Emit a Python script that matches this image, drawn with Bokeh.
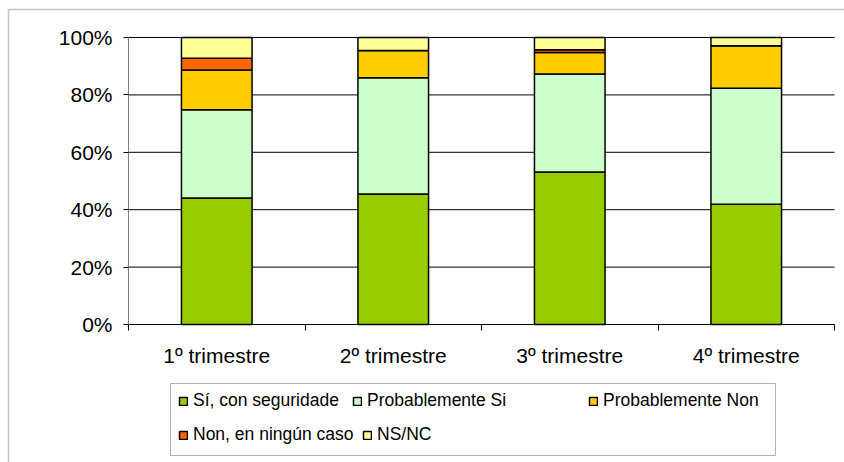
from bokeh.plotting import figure
from bokeh.models import (ColumnDataSource, FixedTicker, Legend, LegendItem,
                          BoxAnnotation, Range1d)
from bokeh.embed import file_html
from bokeh.resources import INLINE

# Survey answers per quarter (percent of respondents)
quarters = ["1º trimestre", "2º trimestre", "3º trimestre", "4º trimestre"]
answers = ["Sí, con seguridade", "Probablemente Si", "Probablemente Non",
           "Non, en ningún caso", "NS/NC"]
si_seguro = [44.1, 45.5, 53.1, 41.9]
prob_si = [30.7, 40.5, 34.2, 40.4]
prob_non = [13.9, 9.5, 7.5, 14.8]
non_nunca = [4.1, 0.0, 0.9, 0.0]
ns_nc = [7.2, 4.5, 4.3, 2.9]
colors = ["#99CC00", "#CCFFCC", "#FFCC00", "#FF6600", "#FFFF99"]
y_ticks = [0, 20, 40, 60, 80, 100]

W, H = 844, 462
# pixel box of the plotting area inside the page
PX_L, PX_R, PX_T, PX_B = 128, 834, 37, 324
N = len(quarters)


def dx(px):
    return (px - PX_L) / (PX_R - PX_L) * N


def dy(py):
    return (PX_B - py) / (PX_B - PX_T) * 100


keys = ["si_seguro", "prob_si", "prob_non", "non_nunca", "ns_nc"]
xpos = [i + 0.5 for i in range(N)]
src = ColumnDataSource(dict(x=xpos, si_seguro=si_seguro, prob_si=prob_si,
                            prob_non=prob_non, non_nunca=non_nunca, ns_nc=ns_nc))

FONT = "Liberation Sans"

p = figure(width=W, height=H, title=None,
           x_range=Range1d(dx(0), dx(W)), y_range=Range1d(dy(H), dy(0)),
           output_backend="svg", toolbar_location=None,
           min_border=0, min_border_left=0, min_border_right=0,
           min_border_top=0, min_border_bottom=0,
           background_fill_color="white", border_fill_color="white",
           outline_line_color=None)
p.xgrid.visible = False
p.ygrid.visible = False

# outer chart border (left and top edges visible)
p.add_layout(BoxAnnotation(left=dx(8), right=dx(W + 40), top=dy(9),
                           bottom=dy(H + 40), fill_alpha=0,
                           line_color="#404040", line_width=1.5,
                           level="underlay"))

# horizontal grid lines across the plotting area
grid_y = y_ticks[1:]
p.segment(x0=[0] * len(grid_y), x1=[N] * len(grid_y), y0=grid_y, y1=grid_y,
          line_color="black", line_width=1)

bars = p.vbar_stack(keys, x="x", width=0.4, color=colors, line_color="black",
                    line_width=1.5, source=src)

# y axis pinned at the left edge of the plotting area
p.yaxis.fixed_location = 0
p.yaxis.bounds = (0, 100)
p.yaxis.ticker = FixedTicker(ticks=y_ticks)
p.yaxis.major_label_overrides = {t: f"{t}%" for t in y_ticks}
p.yaxis.major_tick_out = 5
p.yaxis.major_tick_in = 0
p.yaxis.minor_tick_out = 0
p.yaxis.minor_tick_in = 0
p.yaxis.axis_line_color = "#808080"
p.yaxis.major_tick_line_color = "black"
p.yaxis.major_label_standoff = 11
p.yaxis.major_label_text_font = FONT
p.yaxis.major_label_text_font_size = "21px"
p.yaxis.major_label_text_color = "black"

# x axis: labels centred under bars, tick marks between categories
p.xaxis.fixed_location = 0
p.xaxis.bounds = (0, N)
p.xaxis.ticker = FixedTicker(ticks=xpos, minor_ticks=list(range(N + 1)))
p.xaxis.major_label_overrides = {x: q for x, q in zip(xpos, quarters)}
p.xaxis.major_tick_out = 0
p.xaxis.major_tick_in = 0
p.xaxis.minor_tick_out = 6
p.xaxis.minor_tick_in = 0
p.xaxis.minor_tick_line_color = "black"
p.xaxis.axis_line_color = "black"
p.xaxis.major_label_standoff = 13
p.xaxis.major_label_text_font = FONT
p.xaxis.major_label_text_font_size = "21px"
p.xaxis.major_label_text_color = "black"

# legend frame
p.add_layout(BoxAnnotation(left=dx(170), right=dx(775), top=dy(383),
                           bottom=dy(455), fill_color="white", fill_alpha=1,
                           line_color="black", line_width=1))

# one legend entry per answer, laid out in two rows (pixels from bottom-left)
slots = [(178, 51), (352, 51), (588, 51), (178, 17), (362, 17)]
for r, label, (lx, ly) in zip(bars, answers, slots):
    lg = Legend(items=[LegendItem(label=label, renderers=[r])],
                location=(lx, ly), orientation="horizontal",
                glyph_width=10, glyph_height=10, label_standoff=5,
                label_height=10, padding=0, margin=0, border_line_color=None,
                background_fill_alpha=0, label_text_font=FONT,
                label_text_font_size="17.5px", label_text_color="black")
    p.add_layout(lg, "center")

open("out.html", "w").write(file_html(p, INLINE))
